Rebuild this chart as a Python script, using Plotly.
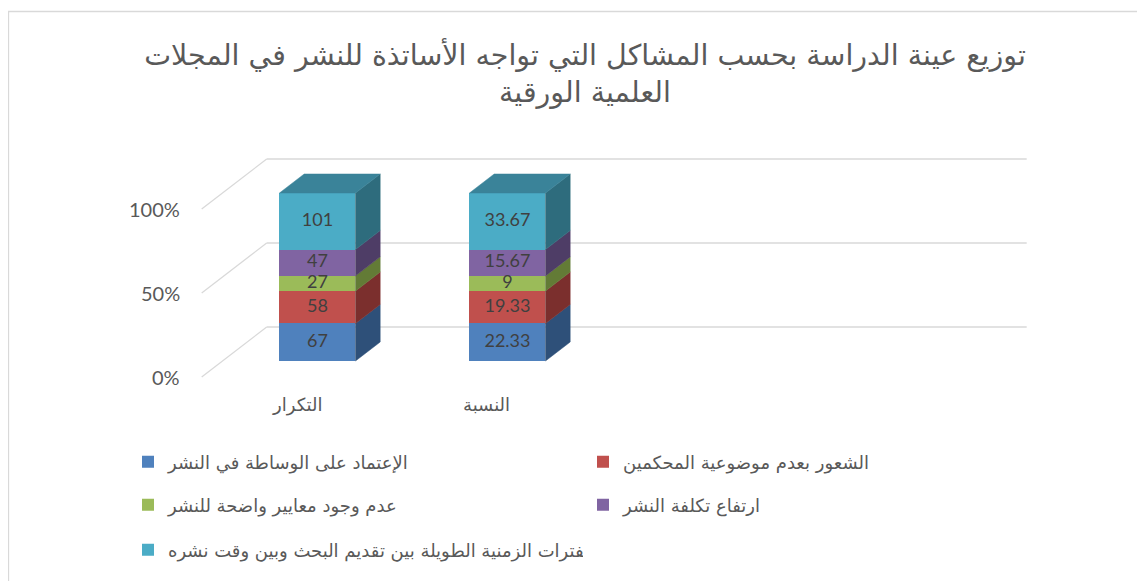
import plotly.graph_objects as go

# ---------------- data ----------------
categories = ["التكرار", "النسبة"]
series_names = [
    "الإعتماد على الوساطة في النشر",
    "الشعور بعدم موضوعية المحكمين",
    "عدم وجود معايير واضحة للنشر",
    "ارتفاع تكلفة النشر",
    "الفترات الزمنية الطويلة بين تقديم البحث وبين وقت نشره",
]
s1 = [67, 22.33]
s2 = [58, 19.33]
s3 = [27, 9]
s4 = [47, 15.67]
s5 = [101, 33.67]
series_values = [s1, s2, s3, s4, s5]
tick_values = [0, 50, 100]
tick_labels = ["0%", "50%", "100%"]
title_text = "توزيع عينة الدراسة بحسب المشاكل التي تواجه الأساتذة للنشر في المجلات<br>العلمية الورقية"

# ---------------- style ----------------
front_colors = ["#4F81BD", "#C0504D", "#9BBB59", "#8064A2", "#4BACC6"]
side_colors = ["#2E5079", "#7B2F2D", "#637B36", "#4E3D66", "#2E6C7D"]
top_color = "#3A8399"
ARABIC = "DejaVu Sans"
NUM = "Lato"

OFF = 8                      # page body margin
W, H = 1145 - OFF, 581 - OFF
ML, MR, MT, MB = 92, 45, 122, 150
pw, ph = W - ML - MR, H - MT - MB
X_RANGE = [-1.1447, -1.1447 + pw / 190.0]
Y_RANGE = [-41.67, -41.67 + ph / 1.68]

BAR_W = 0.4
FLOOR_DX, FLOOR_DY = 65 / 190.0, 50 / 1.68   # full depth (front edge -> back wall)
F_FRONT, F_BACK = 0.32, 0.70                  # bar front / back depth fractions
WALL_L, WALL_R = -0.5, 3.5


def px_x(p):
    return (p - OFF - ML) / pw


def px_y(p):
    return (H - MB - (p - OFF)) / ph


def shift(x, y, f):
    """Move a point from the bar-front plane to depth fraction f."""
    return x + (f - F_FRONT) * FLOOR_DX, y + (f - F_FRONT) * FLOOR_DY


fig = go.Figure()
xpos = list(range(len(categories)))

# front faces
for name, vals, col, lg in zip(series_names, series_values, front_colors,
                               ["legend", "legend", "legend2", "legend2", "legend3"]):
    fig.add_trace(go.Bar(x=xpos, y=vals, name=name, marker=dict(color=col, line=dict(width=0)),
                         width=BAR_W, legend=lg, textposition="none", hoverinfo="skip"))

# side and top faces, labels
totals = [sum(v[i] for v in series_values) for i in xpos]
lab_x, lab_y, lab_t = [], [], []
for i in xpos:
    base = 0.0
    xr = i + BAR_W / 2
    xl = i - BAR_W / 2
    for j, vals in enumerate(series_values):
        h = vals[i] / totals[i] * 100
        b, t = base, base + h
        p1 = (xr, b)
        p2 = shift(xr, b, F_BACK)
        p3 = shift(xr, t, F_BACK)
        p4 = (xr, t)
        fig.add_trace(go.Scatter(x=[p1[0], p2[0], p3[0], p4[0], p1[0]],
                                 y=[p1[1], p2[1], p3[1], p4[1], p1[1]],
                                 fill="toself", fillcolor=side_colors[j], mode="lines",
                                 line=dict(color=side_colors[j], width=0.5),
                                 showlegend=False, hoverinfo="skip"))
        lab_x.append(i)
        lab_y.append((b + t) / 2)
        lab_t.append(f"{vals[i]:g}")
        base = t
    q1 = (xl, base)
    q2 = (xr, base)
    q3 = shift(xr, base, F_BACK)
    q4 = shift(xl, base, F_BACK)
    fig.add_trace(go.Scatter(x=[q1[0], q2[0], q3[0], q4[0], q1[0]],
                             y=[q1[1], q2[1], q3[1], q4[1], q1[1]],
                             fill="toself", fillcolor=top_color, mode="lines",
                             line=dict(color=top_color, width=0.5),
                             showlegend=False, hoverinfo="skip"))

fig.add_trace(go.Scatter(x=lab_x, y=lab_y, text=lab_t, mode="text",
                         textfont=dict(family=NUM, size=18, color="#404040"),
                         showlegend=False, hoverinfo="skip"))

# walls gridlines
shapes = []
for v in tick_values:
    fx, fy = shift(WALL_L, v, 0.0)
    bx, by = shift(WALL_L, v, 1.0)
    ex, ey = shift(WALL_R, v, 1.0)
    shapes.append(dict(type="line", x0=fx, y0=fy, x1=bx, y1=by, xref="x", yref="y",
                       line=dict(color="#D9D9D9", width=1.3), layer="below"))
    shapes.append(dict(type="line", x0=bx, y0=by, x1=ex, y1=ey, xref="x", yref="y",
                       line=dict(color="#D9D9D9", width=1.3), layer="below"))

# chart border
shapes.append(dict(type="rect", xref="paper", yref="paper",
                   x0=px_x(8.5), x1=px_x(1200), y0=px_y(640), y1=px_y(11.5),
                   line=dict(color="#D9D9D9", width=1.3), layer="below"))

annotations = []
for v, lab in zip(tick_values, tick_labels):
    x, y = shift(WALL_L, v, 0.0)
    annotations.append(dict(x=x, y=y, xref="x", yref="y", text=lab, showarrow=False,
                            xanchor="right", yanchor="middle", xshift=-20,
                            font=dict(family=NUM, size=20, color="#595959")))
for i, c in zip(xpos, categories):
    x, y = shift(i, 0, 0.0)
    annotations.append(dict(x=x, y=y, xref="x", yref="y", text=c, showarrow=False,
                            xanchor="center", yanchor="middle", yshift=-28,
                            font=dict(family=ARABIC, size=18, color="#595959")))


def leg(ypx):
    return dict(orientation="h", x=px_x(128), y=px_y(ypx),
                xanchor="left", yanchor="middle", entrywidth=410, entrywidthmode="pixels",
                traceorder="normal",
                font=dict(family=ARABIC, size=18, color="#595959"),
                bgcolor="rgba(0,0,0,0)", borderwidth=0)


fig.update_layout(
    width=W, height=H,
    margin=dict(l=ML, r=MR, t=MT, b=MB, autoexpand=False),
    paper_bgcolor="white", plot_bgcolor="white",
    barmode="stack", barnorm="percent",
    title=dict(text=title_text, x=(585 - OFF) / W, xanchor="center", y=1 - 57 / H, yanchor="top",
               yref="container", font=dict(family=ARABIC, size=28.5, color="#595959")),
    xaxis=dict(range=X_RANGE, visible=False, fixedrange=True),
    yaxis=dict(range=Y_RANGE, visible=False, fixedrange=True),
    shapes=shapes, annotations=annotations,
    legend=leg(462), legend2=leg(505), legend3=leg(550),
    showlegend=True,
)

fig.write_html("out.html")
